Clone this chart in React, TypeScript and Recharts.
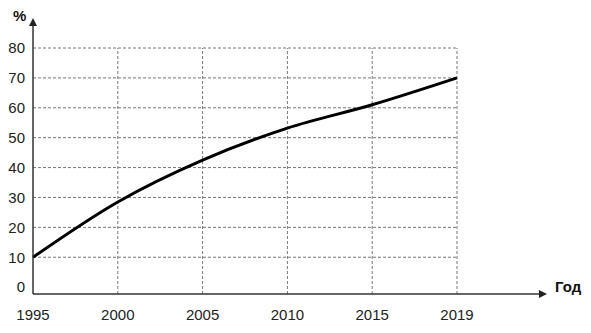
import { LineChart, Line, XAxis, YAxis, ReferenceLine } from "recharts";

const years = ["1995", "2000", "2005", "2010", "2015", "2019"];
const share = [10, 28.5, 42.5, 53.2, 61, 70];
const yTicks = [0, 10, 20, 30, 40, 50, 60, 70, 80];
const yMin = -2.3;

const rows = years.map((year, i) => ({ year, share: share[i] }));

const font = "'Liberation Sans', Arial, sans-serif";
const gridStyle = { stroke: "#777", strokeDasharray: "3 2", strokeWidth: 1 };

export default function App() {
  return (
    <div style={{ position: "absolute", left: 0, top: 0, background: "#fff" }}>
      <LineChart
        width={591}
        height={333}
        data={rows}
        margin={{ top: 20, right: 46, left: 0, bottom: 0 }}
      >
        <defs>
          <marker
            id="arrow"
            viewBox="0 0 8 8"
            refX={6}
            refY={4}
            markerWidth={8}
            markerHeight={8}
            markerUnits="userSpaceOnUse"
            orient="auto-start-reverse"
          >
            <path d="M0,0 L8,4 L0,8 z" fill="#222" />
          </marker>
        </defs>
        {yTicks
          .filter((t) => t > 0)
          .map((t) => (
            <ReferenceLine
              key={"h" + t}
              segment={[
                { x: years[0], y: t },
                { x: years[years.length - 1], y: t },
              ]}
              {...gridStyle}
            />
          ))}
        {years.slice(1).map((y) => (
          <ReferenceLine
            key={"v" + y}
            segment={[
              { x: y, y: yMin },
              { x: y, y: 80 },
            ]}
            {...gridStyle}
          />
        ))}
        <XAxis
          dataKey="year"
          height={39}
          padding={{ left: 0, right: 88 }}
          tickLine={false}
          tickMargin={9}
          axisLine={{ stroke: "#333", strokeWidth: 1.5, markerEnd: "url(#arrow)" }}
          tick={{ fill: "#222", fontSize: 15, fontFamily: font }}
          interval={0}
        />
        <YAxis
          type="number"
          domain={[yMin, 80]}
          ticks={yTicks}
          width={33}
          padding={{ top: 28, bottom: 0 }}
          tickLine={false}
          axisLine={{ stroke: "#333", strokeWidth: 1.5, markerStart: "url(#arrow)" }}
          tick={{ fill: "#222", fontSize: 15, fontFamily: font }}
          interval={0}
        />
        <Line
          type="monotone"
          dataKey="share"
          stroke="#000"
          strokeWidth={3}
          dot={false}
          isAnimationActive={false}
        />
        <text x={13} y={21} fontSize={15} fontWeight="bold" fontFamily={font} fill="#111">
          %
        </text>
        <text x={555} y={292} fontSize={15} fontWeight="bold" fontFamily={font} fill="#111">
          Год
        </text>
      </LineChart>
    </div>
  );
}
